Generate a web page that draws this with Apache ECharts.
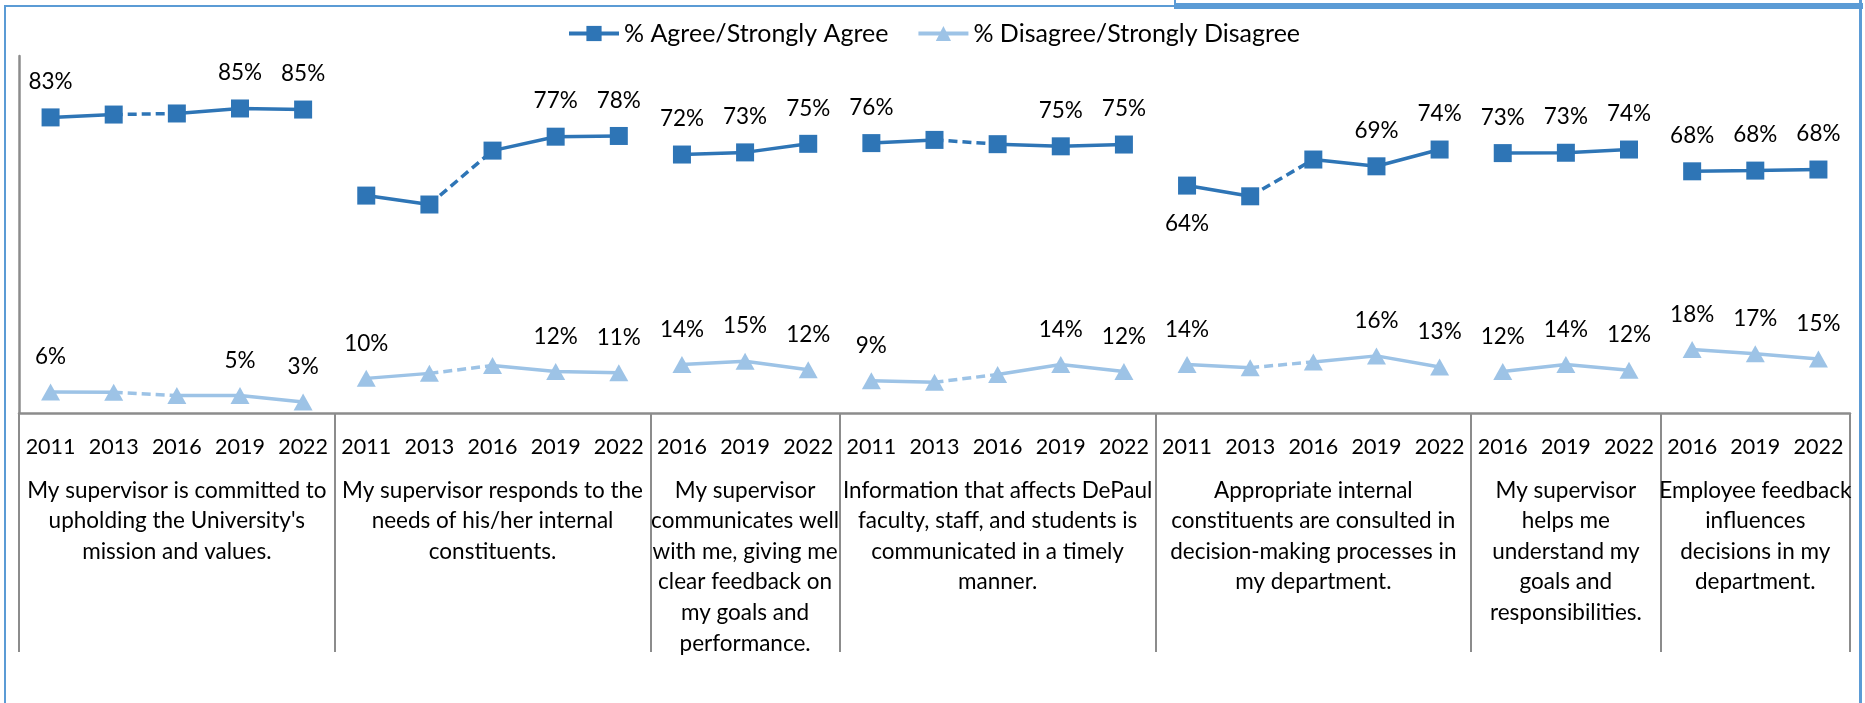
<!DOCTYPE html>
<html>
<head>
<meta charset="utf-8">
<script src="https://cdn.jsdelivr.net/npm/echarts@6/dist/echarts.min.js"></script>
<style>
html, body { margin: 0; padding: 0; background: #fff; }
#chart { width: 1865px; height: 703px; }
</style>
</head>
<body>
<div id="chart"></div>
<script>
// survey questions (group labels under the year axis)
var questions = [
    "My supervisor is committed to\nupholding the University's\nmission and values.",
    "My supervisor responds to the\nneeds of his/her internal\nconstituents.",
    "My supervisor\ncommunicates well\nwith me, giving me\nclear feedback on\nmy goals and\nperformance.",
    "Information that affects DePaul\nfaculty, staff, and students is\ncommunicated in a timely\nmanner.",
    "Appropriate internal\nconstituents are consulted in\ndecision-making processes in\nmy department.",
    "My supervisor\nhelps me\nunderstand my\ngoals and\nresponsibilities.",
    "Employee feedback\ninfluences\ndecisions in my\ndepartment."
];
var questionYears = [
    [2011, 2013, 2016, 2019, 2022],
    [2011, 2013, 2016, 2019, 2022],
    [2016, 2019, 2022],
    [2011, 2013, 2016, 2019, 2022],
    [2011, 2013, 2016, 2019, 2022],
    [2016, 2019, 2022],
    [2016, 2019, 2022]
];
var agreeValues = [
    82.8, 83.6, 83.9, 85.3, 85.0,
    60.9, 58.4, 73.5, 77.4, 77.6,
    72.4, 73.0, 75.4,
    75.6, 76.5, 75.3, 74.7, 75.2,
    63.7, 60.7, 71.0, 69.1, 73.8,
    72.8, 72.9, 73.8,
    67.7, 67.9, 68.2
];
var disagreeValues = [
    5.9, 5.8, 4.9, 4.9, 3.1,
    9.7, 11.1, 13.3, 11.6, 11.3,
    13.6, 14.5, 12.1,
    9.0, 8.6, 10.8, 13.6, 11.6,
    13.6, 12.7, 14.3, 16.0, 12.9,
    11.6, 13.6, 12.0,
    17.8, 16.6, 15.1
];
// 1 = point carries a value label
var agreeLabelled = [
    1, 0, 0, 1, 1,
    0, 0, 0, 1, 1,
    1, 1, 1,
    1, 0, 0, 1, 1,
    1, 0, 0, 1, 1,
    1, 1, 1,
    1, 1, 1
];
var disagreeLabelled = [
    1, 0, 0, 1, 1,
    1, 0, 0, 1, 1,
    1, 1, 1,
    1, 0, 0, 1, 1,
    1, 0, 0, 1, 1,
    1, 1, 1,
    1, 1, 1
];
// the 2013 -> 2016 step is drawn dashed
var dashedFrom = 2013;

var agreeName = "% Agree/Strongly Agree";
var disagreeName = "% Disagree/Strongly Disagree";
var agreeColor = "#2E75B6";
var disagreeColor = "#9DC3E6";
var axisGray = "#8C8C8C";
var textColor = "#000";
var fontFamily = "Lato, 'Open Sans', sans-serif";

// flatten the groups into one category axis
var pointYears = [], pointGroup = [], groupStart = [];
questionYears.forEach(function(years, g) {
    groupStart.push(pointYears.length);
    years.forEach(function(y) {
        pointYears.push(String(y));
        pointGroup.push(g);
    });
});
var N = pointYears.length;

/**
 * line pieces of one measure: one series per run of solid / dashed segments,
 * so groups stay unconnected
 **/
function buildRuns(values, color, width) {
    var out = [];

    function makeRun(start, idx, dashed) {
        var data = [];
        for (var i = 0; i < N; i++) data.push("-");
        idx.forEach(function(k) { data[start + k] = values[start + k]; });
        out.push({
            type: "line",
            data: data,
            symbol: "none",
            silent: true,
            animation: false,
            z: 2,
            lineStyle: { color: color, width: width, type: dashed ? [9, 5] : "solid", cap: "butt" }
        });
    }
    questionYears.forEach(function(years, g) {
        var start = groupStart[g];
        var run = [0];
        var runDashed = null;
        for (var k = 1; k < years.length; k++) {
            var dashed = years[k - 1] === dashedFrom;
            if (runDashed !== null && dashed !== runDashed) {
                makeRun(start, run, runDashed);
                run = [k - 1];
            }
            run.push(k);
            runDashed = dashed;
        }
        makeRun(start, run, runDashed);
    });
    return out;
}

function markerSeries(name, values, labelled, color, symbol, size, below) {
    return {
        name: name,
        type: "line",
        data: values.map(function(v, i) {
            var label = { show: labelled[i] === 1, position: "top" };
            if (below[i]) {
                label.position = "bottom";
                label.distance = 18;
            }
            return { value: v, label: label };
        }),
        symbol: symbol,
        symbolSize: size,
        showAllSymbol: true,
        animation: false,
        z: 3,
        itemStyle: { color: color },
        lineStyle: { opacity: 0 },
        label: {
            distance: 15,
            fontFamily: fontFamily,
            fontSize: 22.5,
            color: textColor,
            formatter: function(p) { return Math.round(p.value) + "%"; }
        }
    };
}

// only the first Appropriate-internal point has its label under the marker
var agreeBelow = agreeValues.map(function(v, i) { return i === groupStart[4]; });
var disagreeBelow = disagreeValues.map(function() { return false; });

var series = []
    .concat(buildRuns(agreeValues, agreeColor, 3.5))
    .concat(buildRuns(disagreeValues, disagreeColor, 3.5))
    .concat([
        markerSeries(agreeName, agreeValues, agreeLabelled, agreeColor, "rect", 18, agreeBelow),
        markerSeries(disagreeName, disagreeValues, disagreeLabelled, disagreeColor, "triangle", [19, 17], disagreeBelow)
    ]);

var chart = echarts.init(document.getElementById("chart"), null, { renderer: "canvas" });
chart.setOption({
    animation: false,
    backgroundColor: "#fff",
    grid: { left: 19, right: 15, top: 56, bottom: 290, containLabel: false },
    legend: {
        left: 562,
        top: 16,
        itemWidth: 50,
        itemHeight: 19,
        itemGap: 28,
        textStyle: { fontFamily: fontFamily, fontSize: 25, color: textColor },
        data: [
            { name: agreeName, lineStyle: { color: agreeColor, width: 4, opacity: 1 } },
            { name: disagreeName, lineStyle: { color: disagreeColor, width: 4, opacity: 1 } }
        ]
    },
    xAxis: [{
        type: "category",
        data: pointYears,
        boundaryGap: true,
        axisLine: { lineStyle: { color: axisGray, width: 2.5 } },
        axisTick: { show: false },
        axisLabel: {
            interval: 0,
            margin: 23,
            fontFamily: fontFamily,
            fontSize: 21.5,
            color: textColor
        }
    }, {
        type: "category",
        position: "bottom",
        data: pointYears.map(function(y, i) { return String(i); }),
        boundaryGap: true,
        axisLine: { show: false },
        axisTick: {
            show: true,
            interval: function(i) { return groupStart.indexOf(i) >= 0; },
            length: 239,
            inside: false,
            lineStyle: { color: axisGray, width: 2 }
        },
        axisLabel: {
            interval: 0,
            margin: 62,
            lineHeight: 30.6,
            align: "center",
            verticalAlign: "top",
            fontFamily: fontFamily,
            fontSize: 22.5,
            color: textColor,
            formatter: function(v, i) {
                var g = pointGroup[i];
                var mid = groupStart[g] + (questionYears[g].length - 1) / 2;
                return i === mid ? questions[g] : "";
            }
        }
    }],
    yAxis: {
        type: "value",
        min: 0,
        max: 100,
        axisLine: { show: true, lineStyle: { color: axisGray, width: 2.5 } },
        axisTick: { show: false },
        axisLabel: { show: false },
        splitLine: { show: false }
    },
    // outer chart frame
    graphic: [
        { type: "rect", silent: true, shape: { x: 5, y: 6, width: 1855, height: 720 },
            style: { fill: "none", stroke: "#5B9BD5", lineWidth: 2 } },
        { type: "rect", silent: true, shape: { x: 1175, y: 3, width: 688, height: 6 },
            style: { fill: "#5B9BD5" } },
        { type: "rect", silent: true, shape: { x: 1174, y: 0, width: 2, height: 9 },
            style: { fill: "#5B9BD5" } },
        { type: "rect", silent: true, shape: { x: 1859, y: 0, width: 3, height: 703 },
            style: { fill: "#5B9BD5" } }
    ],
    series: series
});
</script>
</body>
</html>
